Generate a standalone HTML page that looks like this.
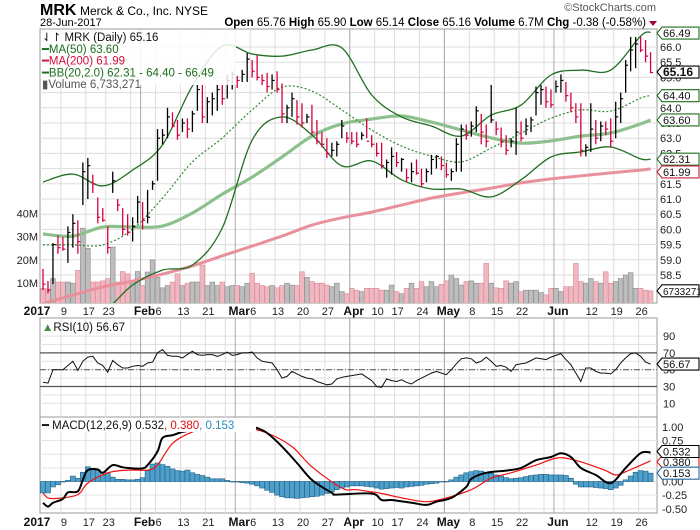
<!DOCTYPE html>
<html><head><meta charset="utf-8"><style>
html,body{margin:0;padding:0;background:#fff;}
svg{display:block;font-family:"Liberation Sans",sans-serif;}
</style></head><body>
<svg id="chart" width="700" height="530" viewBox="0 0 700 530" xmlns="http://www.w3.org/2000/svg">
<defs>
<clipPath id="mainClip"><rect x="40" y="29" width="617" height="274"/></clipPath>
<clipPath id="macdClip"><rect x="40" y="417" width="617" height="96"/></clipPath>
</defs>
<g>
<text x="40" y="15" font-size="16" font-weight="bold">MRK</text>
<text x="80" y="15" font-size="12">Merck &amp; Co., Inc. NYSE</text>
<text x="40" y="26" font-size="11">28-Jun-2017</text>
<text x="656" y="11" font-size="11" fill="#555" text-anchor="end">©StockCharts.com</text>
<text x="646" y="26" font-size="11.5" text-anchor="end"><tspan font-weight="bold">Open</tspan> 65.76 <tspan font-weight="bold">High</tspan> 65.90 <tspan font-weight="bold">Low</tspan> 65.14 <tspan font-weight="bold">Close</tspan> 65.16 <tspan font-weight="bold">Volume</tspan> 6.7M <tspan font-weight="bold">Chg</tspan> -0.38 (-0.58%)</text>
<polygon points="649,21 657,21 653,26" fill="#b0003a"/>
</g>
<g id="grid"></g>
<g id="marks"></g>
<g id="overlay"></g>
</svg>
<script>
// ---- data ----
const highs=[58.7,58.3,59.55,59.8,59.75,60.1,60.5,60.3,62.2,62.35,61.8,61.05,60.7,60.1,61.9,61.0,60.7,60.5,60.4,61.1,60.9,61.3,61.6,63.3,63.3,64.0,63.85,63.6,63.65,63.65,63.9,64.75,64.75,64.35,64.5,64.75,64.75,65.1,65.2,65.05,65.25,65.8,65.57,65.73,65.1,65.15,65.1,65.2,64.8,64.1,64.5,64.25,64.15,63.8,64.1,63.6,63.2,63.0,62.85,62.9,63.6,63.2,63.2,63.2,63.2,63.65,63.1,62.85,62.85,62.3,62.7,62.55,62.35,62.0,62.2,62.3,62.0,62.0,62.45,62.45,62.4,62.2,62.0,63.0,63.45,63.45,63.55,64.05,63.8,63.45,64.75,63.55,63.35,63.1,63.0,64.0,63.55,63.65,63.7,64.7,64.75,64.7,64.6,64.9,65.1,64.85,64.5,64.15,64.15,62.8,64.15,63.6,63.55,63.55,63.65,64.2,64.5,65.57,66.33,66.33,66.33,66.23,65.83];
const lows=[58.0,57.9,58.2,59.2,59.3,58.9,59.4,59.2,60.8,61.0,61.2,60.2,60.25,59.2,61.2,60.6,59.8,59.8,59.6,60.2,60.0,60.2,61.3,61.6,62.8,63.0,63.35,62.95,63.2,63.0,63.2,63.9,63.5,63.5,63.75,63.9,64.1,64.3,64.6,64.65,64.85,64.85,65.0,64.9,64.75,64.5,64.6,64.5,63.5,63.5,63.7,63.45,63.35,63.5,63.1,62.8,62.7,62.35,62.4,62.4,63.0,62.85,62.8,62.7,62.95,63.0,62.7,62.4,62.0,61.7,61.8,62.05,61.9,61.55,61.55,61.8,61.4,61.55,61.8,62.0,61.95,61.7,61.6,61.9,61.9,62.95,63.05,63.2,62.8,62.7,63.5,63.1,62.7,62.45,62.7,62.45,62.9,63.1,63.2,63.75,64.1,64.0,64.0,64.5,64.5,64.2,63.85,63.5,62.4,62.4,62.55,62.8,62.9,63.1,62.7,63.0,63.5,64.5,65.2,65.3,65.83,65.5,65.14];
const closes=[58.2,58.0,59.5,59.4,59.35,59.9,60.2,59.6,61.9,62.1,61.5,60.4,60.3,59.4,61.6,60.8,60.0,59.9,60.1,60.9,60.3,60.4,61.5,63.0,63.1,63.7,63.4,63.1,63.5,63.3,63.8,64.6,63.7,64.2,64.3,64.6,64.3,64.9,65.1,64.9,65.1,65.6,65.2,65.0,64.9,64.7,64.9,64.6,63.8,64.0,64.3,63.7,63.5,63.7,63.2,62.9,62.8,62.5,62.6,62.8,63.4,63.0,62.9,62.8,63.1,62.9,62.8,62.5,62.1,62.2,62.4,62.2,62.3,61.7,61.9,61.85,61.5,61.9,62.3,62.4,62.1,61.8,61.9,62.8,63.3,63.1,63.4,63.9,63.2,62.9,63.6,63.3,62.9,62.6,62.9,63.2,63.0,63.4,63.6,64.5,64.6,64.2,64.1,64.7,64.9,64.4,64.0,63.7,62.6,62.7,63.3,63.0,63.4,63.3,62.9,63.7,64.3,65.4,65.9,66.1,65.9,65.7,65.16];
const volumes=[7.8,7.5,12,10.5,10.5,10.5,10,15.5,33.6,25,10.5,10.5,11,12,25.5,10.5,15,14,10.5,15,9,14.8,20,12.5,8,9,10.5,14,9,10,10.5,10.5,17.8,9,10.5,9,10.5,8.5,9,9,8.5,10,14.3,10,9,8.5,9,8,9,10,9.2,9,14.9,12.5,10.7,10,10,9.2,8.5,10,6.4,5.5,7.8,7,6.4,7.8,7.8,7.8,7,7,9.2,6.4,5.5,7.8,10,7.8,10.7,8.5,10.7,8.5,9.5,11,13.5,12,9.2,10.7,11,10,10,18.5,10,8,7.8,11,10,10.7,6.4,7,7,7,6,5,7.8,7.8,6.4,8.5,8.5,18.5,10.7,10,12,10.7,10,14.9,10,10.7,12,13.5,14.5,7.8,7.8,7,6.73];
const sampleIdx=[0,6,12,18,24,30,36,42,48,54,60,66,72,78,84,90,96,102,108,114,120,122];
const bbUpper=[61.56,61.82,61.43,61.95,62.78,64.72,66.03,65.77,65.7,65.9,65.97,64.42,63.7,63.4,63.07,63.76,64.09,65.08,65.24,65.24,66.36,66.49];
const bbMiddle=[59.49,59.49,59.49,60.01,61.03,62.22,63.01,63.93,64.68,64.55,63.93,63.27,62.74,62.41,62.22,62.68,63.17,63.66,63.93,63.89,64.32,64.40];
const bbLower=[57.02,57.09,57.28,58.17,58.66,58.83,60.05,62.94,63.7,63.11,62.09,62.25,61.63,61.33,61.33,61.07,61.63,62.38,62.55,62.71,62.32,62.31];
const ma50=[59.85,59.78,60.08,60.08,60.11,60.54,61.16,61.72,62.38,63.07,63.47,63.63,63.73,63.53,63.27,63.01,62.84,62.91,63.07,63.17,63.47,63.60];
const ma200=[57.55,57.84,58.11,58.3,58.53,58.8,59.13,59.45,59.78,60.14,60.38,60.57,60.8,61.03,61.2,61.36,61.53,61.66,61.76,61.86,61.95,61.99];
const rsi=[35,34,50,50,50,55,60,49,60,65,66,58,55,47,61,56,52,52,54,55,54,58,59,70,74,67,66,66,64,68,72,68,67,68,68,66,68,71,67,68,70,70,71,64,60,59,58,50,40,42,48,45,42,40,39,36,34,32,33,39,41,42,43,44,45,41,37,30,29,39,37,36,38,35,33,37,40,43,46,48,46,44,50,57,63,64,63,58,60,65,60,54,55,53,48,56,57,58,61,64,63,62,65,67,69,62,56,46,36,52,52,48,46,46,45,50,58,64,69,70,66,59,56.67];
const macdIdx=[0,1,2,4,5,7,8,9,11,12,14,16,18,20,21,23,24,26,28,30,32,35,38,41,43,45,48,51,54,58,59,66,68,70,74,77,79,82,85,86,89,93,96,99,102,104,106,108,111,114,117,120,122];
const macdLine=[-0.39,-0.46,-0.39,-0.32,-0.2,-0.18,0.03,0.21,0.22,0.16,0.3,0.26,0.24,0.24,0.3,0.55,0.8,0.85,0.91,0.94,0.97,1.0,1.02,1.02,0.98,0.89,0.64,0.34,0.03,-0.21,-0.24,-0.22,-0.34,-0.34,-0.39,-0.43,-0.37,-0.3,-0.1,0.05,0.16,0.2,0.25,0.39,0.45,0.52,0.45,0.25,0.12,-0.03,0.25,0.52,0.532];
const signalIdx=[0,1,3,7,9,13,17,21,23,26,30,33,36,40,45,50,54,60,63,68,72,77,81,86,90,94,99,103,106,110,113,115,117,122];
const signalLine=[-0.21,-0.3,-0.31,-0.24,-0.03,0.16,0.21,0.21,0.3,0.7,0.91,0.95,0.98,1.0,0.89,0.64,0.27,-0.12,-0.15,-0.22,-0.3,-0.37,-0.3,-0.15,0.06,0.16,0.3,0.43,0.41,0.3,0.2,0.12,0.18,0.38];
const histogram=[-0.21,-0.21,-0.1,-0.06,-0.01,0.02,0.1,0.06,0.17,0.27,0.24,0.21,0.12,0.16,0.08,0.04,0.04,0.03,0.03,0.04,0.07,0.2,0.32,0.34,0.31,0.28,0.23,0.2,0.19,0.21,0.16,0.13,0.11,0.08,0.05,0.05,0.05,0.02,0,-0.01,-0.02,-0.03,-0.05,-0.08,-0.12,-0.16,-0.2,-0.25,-0.28,-0.3,-0.3,-0.31,-0.3,-0.29,-0.28,-0.27,-0.25,-0.22,-0.19,-0.15,-0.12,-0.1,-0.08,-0.08,-0.08,-0.09,-0.1,-0.12,-0.14,-0.13,-0.12,-0.11,-0.12,-0.1,-0.09,-0.08,-0.07,-0.05,-0.04,-0.03,0,0,0.03,0.08,0.12,0.16,0.18,0.2,0.19,0.17,0.15,0.12,0.1,0.07,0.05,0.06,0.07,0.09,0.11,0.12,0.13,0.13,0.12,0.12,0.12,0.11,0.06,-0.05,-0.1,-0.1,-0.1,-0.11,-0.12,-0.13,-0.15,-0.12,-0.07,0.03,0.1,0.17,0.2,0.19,0.153];
const priceTicks=[66.0,65.5,65.0,64.5,64.0,63.5,63.0,62.5,62.0,61.5,61.0,60.5,60.0,59.5,59.0,58.5];
const volumeTicks=[10,20,30,40];
const rsiTicks=[90,70,50,30,10];
const macdTicks=[1.0,0.75,0.5,0.25,0.0,-0.25,-0.5];
const dayLabelIdx=[4,9,13,23,28,33,42,47,52,57,67,71,76,86,91,96,110,115,120];
const dayLabels=["9","17","23","6","13","21","6","13","20","27","10","17","24","8","15","22","12","19","26"];
const monthLabelIdx=[0,20,39,62,81,103];
const monthLabels=["2017","Feb","Mar","Apr","May","Jun"];
const weekIdx=[4,9,13,18,23,28,33,37,42,47,52,57,62,67,71,76,81,86,91,96,101,105,110,115,120];
const monthIdx=[0,20,39,62,81,103];

// ---- axes ----
const px=i=>43+i*4.98;
const py=p=>47+(66-p)*30.4;
const vy=v=>306.5-v*2.33;
const ry=v=>369.7-(v-50)*0.84;
const my=v=>481.5-v*54.5;
const NS="http://www.w3.org/2000/svg";
function mk(tag,attrs,parent){const e=document.createElementNS(NS,tag);for(const k in attrs)e.setAttribute(k,attrs[k]);parent.appendChild(e);return e;}
const grid=document.getElementById('grid'),marks=document.getElementById('marks'),overlay=document.getElementById('overlay');
let el;

[[29,303],[318,417],[417,513]].forEach((r,k)=>{
  el=mk('rect',{x:40,y:r[0],width:617,height:r[1]-r[0],fill:'#fff',stroke:'#999','stroke-width':1},grid);
  
  
});
priceTicks.forEach(t=>{
  el=mk('line',{x1:40,x2:657,y1:py(t),y2:py(t),stroke:'#ddd'},grid);
  
  
  el=mk('text',{x:660,y:py(t)+4,'font-size':11,fill:'#222'},grid);
  
  
  el.textContent=t.toFixed(1);
});
volumeTicks.forEach(t=>{
  el=mk('text',{x:38,y:vy(t)+4,'font-size':11,fill:'#222','text-anchor':'end'},grid);
  
  
  el.textContent=t+'M';
});
for(let v=10;v<=90;v+=10){
  el=mk('line',{x1:40,x2:657,y1:ry(v),y2:ry(v),stroke:'#e2e2e2'},grid);
  
  
}
rsiTicks.forEach(t=>{
  el=mk('text',{x:663,y:ry(t)+4,'font-size':11,fill:'#222'},grid);
  
  
  el.textContent=t;
});
macdTicks.forEach(t=>{
  el=mk('line',{x1:40,x2:657,y1:my(t),y2:my(t),stroke:'#e2e2e2'},grid);
  
  
  el=mk('text',{x:662,y:my(t)+4,'font-size':11,fill:'#222'},grid);
  
  
  el.textContent=t.toFixed(2);
});
weekIdx.forEach(i=>{
  [[29,303],[318,513]].forEach(r=>{
    el=mk('line',{x1:px(i)-2,x2:px(i)-2,y1:r[0],y2:r[1],stroke:'#ddd'},grid);
    
    
  });
});
monthIdx.forEach(i=>{
  if(i===0)return;
  [[29,303],[318,513]].forEach(r=>{
    el=mk('line',{x1:px(i)-2,x2:px(i)-2,y1:r[0],y2:r[1],stroke:'#aaa'},grid);
    
    
  });
});
[315,526].forEach(yy=>{
  dayLabelIdx.forEach((i,k)=>{
    el=mk('text',{x:px(i)+1,y:yy,'font-size':11,'text-anchor':'middle',fill:'#222'},grid);
    
    
    el.textContent=dayLabels[k];
  });
  monthLabelIdx.forEach((i,k)=>{
    el=mk('text',{x:k===0?px(i)-6:px(i)+2,y:yy,'font-size':12,'font-weight':'bold','text-anchor':'middle',fill:'#111'},grid);
    
    
    el.textContent=monthLabels[k];
  });
});
[[70,'#555',''],[30,'#555',''],[50,'#666','6,2,1,2']].forEach(r=>{
  el=mk('line',{x1:40,x2:657,y1:ry(r[0]),y2:ry(r[0]),stroke:r[1],'stroke-width':1.2,'stroke-dasharray':r[2]},grid);
  
  
});

// smooth path through points (Catmull-Rom)
function smooth(idx,vals,fy,attrs,parent){
  const P=idx.map((i,k)=>[px(i),fy(vals[k])]);
  let d='M'+P[0][0].toFixed(1)+','+P[0][1].toFixed(1);
  for(let k=0;k<P.length-1;k++){
    const p0=P[k-1]||P[k],p1=P[k],p2=P[k+1],p3=P[k+2]||P[k+1];
    const c1=[p1[0]+(p2[0]-p0[0])/6,p1[1]+(p2[1]-p0[1])/6];
    const c2=[p2[0]-(p3[0]-p1[0])/6,p2[1]-(p3[1]-p1[1])/6];
    d+=' C'+c1.map(v=>v.toFixed(1)).join(',')+' '+c2.map(v=>v.toFixed(1)).join(',')+' '+p2.map(v=>v.toFixed(1)).join(',');
  }
  return mk('path',Object.assign({d:d,fill:'none'},attrs),parent);
}

// ---- price panel ----
const mg=mk('g',{'clip-path':'url(#mainClip)'},marks);
const up=i=>i===0?false:closes[i]>closes[i-1];
volumes.forEach((v,i)=>{
  el=mk('rect',{x:px(i)-2.4,y:vy(v),width:4.8,height:306.5-vy(v),fill:up(i)?'#bdbdbd':'#efb7c0',stroke:up(i)?'#8a8a8a':'#d88a98','stroke-width':0.6},mg);
  
  
});
el=smooth(sampleIdx,ma200,py,{stroke:'#e8909c','stroke-width':3},mg);


el=smooth(sampleIdx,ma50,py,{stroke:'#8cc08c','stroke-width':3.2},mg);


el=smooth(sampleIdx,bbUpper,py,{stroke:'#1f6f1f','stroke-width':1.3},mg);


el=smooth(sampleIdx,bbLower,py,{stroke:'#1f6f1f','stroke-width':1.3},mg);


el=smooth(sampleIdx,bbMiddle,py,{stroke:'#2f8a2f','stroke-width':1.2,'stroke-dasharray':'2,2'},mg);


highs.forEach((h,i)=>{
  const c=up(i)?'#000':'#d4003c';
  const x=px(i);
  el=mk('line',{x1:x,x2:x,y1:py(h),y2:py(lows[i]),stroke:c,'stroke-width':1.3},mg);
  
  
  el=mk('line',{x1:x,x2:x+2.5,y1:py(closes[i]),y2:py(closes[i]),stroke:c,'stroke-width':1.2},mg);
  
  
});

// ---- RSI ----
el=mk('polyline',{points:rsi.map((v,i)=>px(i).toFixed(1)+','+ry(v).toFixed(1)).join(' '),fill:'none',stroke:'#111','stroke-width':1},marks);



// ---- MACD ----
const cg=mk('g',{'clip-path':'url(#macdClip)'},marks);
histogram.forEach((v,i)=>{
  const y0=my(0),y1=my(v);
  el=mk('rect',{x:px(i)-2.5,y:Math.min(y0,y1),width:5,height:Math.max(0.5,Math.abs(y1-y0)),fill:'#4f9fcb',stroke:'#1f5f86','stroke-width':0.6},cg);
  
  
});
el=smooth(signalIdx,signalLine,my,{stroke:'#f01010','stroke-width':1.2},cg);


el=smooth(macdIdx,macdLine,my,{stroke:'#000','stroke-width':2},cg);



// ---- value tags ----
function tag(y,text,color,bold,name){
  const g=mk('g',{},overlay);
  
  
  mk('polygon',{points:`657,${y} 662,${y-6} 699,${y-6} 699,${y+6} 662,${y+6}`,fill:'#fff',stroke:color,'stroke-width':1.1},g);
  const t=mk('text',{x:663,y:y+4,'font-size':bold?12:(text.length>6?10:11),'font-weight':bold?'bold':'normal',fill:'#111'},g);
  t.textContent=text;
}
tag(py(65.16)-0.5,'65.16','#000',true,'last-price-tag');
tag(py(66.49)+1,'66.49','#1f6f1f',false,'bb-upper-tag');
tag(py(64.40),'64.40','#1f6f1f',false,'bb-middle-tag');
tag(py(63.60),'63.60','#1f6f1f',false,'ma50-tag');
tag(py(62.31),'62.31','#1f6f1f',false,'bb-lower-tag');
tag(py(61.99)+3,'61.99','#c0203c',false,'ma200-tag');
tag(vy(6.73),'6733271','#000',false,'volume-tag');
tag(ry(56.67),'56.67','#000',false,'rsi-value-tag');
tag(my(0.380)+1,'0.380','#e01010',false,'macd-signal-tag');
tag(my(0.532)-1,'0.532','#000',false,'macd-value-tag');
tag(my(0.153),'0.153','#2a6aa0',false,'macd-histogram-tag');

// ---- legends ----
const lg=mk('g',{},overlay);


mk('rect',{x:41,y:30,width:195,height:55,fill:'#fff','fill-opacity':0.85},lg);
const leg=[['⇃↾ MRK (Daily) 65.16','#111'],['━MA(50) 63.60','#1a6e1a'],['━MA(200) 61.99','#d0103c'],['━BB(20,2.0) 62.31 - 64.40 - 66.49','#1a6e1a'],['▮Volume 6,733,271','#555']];
leg.forEach((l,k)=>{
  el=mk('text',{x:42,y:41+k*11.8,'font-size':11.5,fill:l[1]},lg);
  
  
  el.textContent=l[0];
});
el=mk('text',{x:42,y:331,'font-size':11.5,fill:'#111'},overlay);


el.innerHTML='<tspan fill="#4a8a4a">▲</tspan>RSI(10) 56.67';
el=mk('rect',{x:41,y:418,width:215,height:14,fill:'#fff'},overlay);


el=mk('text',{x:42,y:429,'font-size':11.5,fill:'#111'},overlay);


el.innerHTML='━ MACD(12,26,9) 0.532<tspan fill="#e01010">, 0.380</tspan><tspan fill="#2a8ac0">, 0.153</tspan>';
</script>
</body></html>
